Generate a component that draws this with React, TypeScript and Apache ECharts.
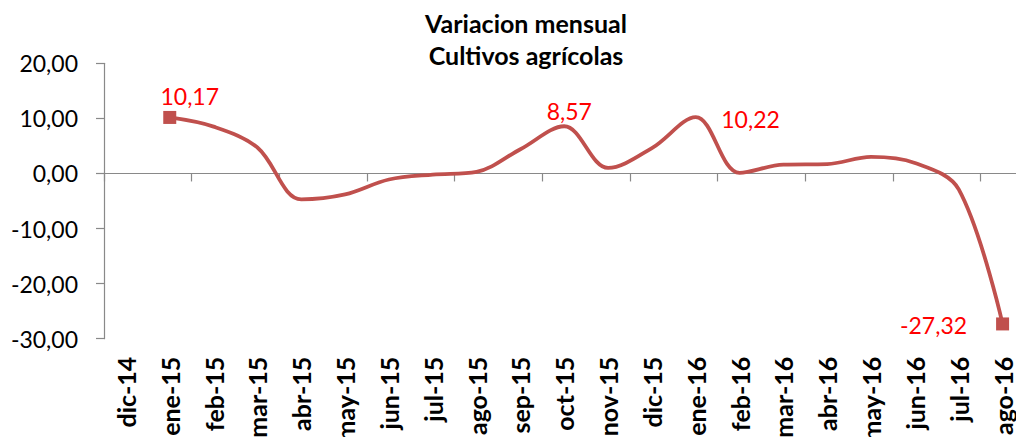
import React, { useEffect, useRef } from "react";
import * as echarts from "echarts";

const titleLines = ["Variacion mensual", "Cultivos agrícolas"];
const categories = [
  "dic-14", "ene-15", "feb-15", "mar-15", "abr-15", "may-15", "jun-15", "jul-15",
  "ago-15", "sep-15", "oct-15", "nov-15", "dic-15", "ene-16", "feb-16", "mar-16",
  "abr-16", "may-16", "jun-16", "jul-16", "ago-16",
];
const values: (number | null)[] = [
  null, 10.17, 8.5, 4.7, -4.7, -3.8, -1.1, -0.2, 0.3, 4.4, 8.57, 1.0, 4.6,
  10.22, 0.1, 1.6, 1.7, 3.0, 1.9, -2.9, -27.32,
];
// indices of points that carry a square marker / a data label
const markerIdx = [1, 20];
const labelIdx = [1, 10, 13, 20];
const yMin = -30;
const yMax = 20;
const yStep = 10;

const FONT = "Lato, 'Open Sans', sans-serif";
const LINE = "#C0504D";
const AXIS = "#898989";

const fmt = (v: number) => v.toFixed(2).replace(".", ",");

export default function App() {
  const ref = useRef<HTMLDivElement>(null);
  useEffect(() => {
    if (!ref.current) return;
    const chart = echarts.init(ref.current, undefined, { renderer: "svg" });
    const labelCfg: Record<number, any> = {
      1: { position: "top", distance: 3, offset: [20, 0] },
      10: { position: "top", distance: 3, offset: [5, 0] },
      13: { position: "right", distance: 25, offset: [0, 2] },
      20: { position: "left", distance: 29, offset: [0, 1] },
    };
    const data = values.map((v, i) => {
      const item: any = { value: v };
      const hasMarker = markerIdx.includes(i);
      const hasLabel = labelIdx.includes(i);
      if (!hasMarker && !hasLabel) item.symbol = "none";
      if (!hasMarker && hasLabel) item.symbolSize = 1;
      if (hasLabel) {
        item.label = {
          show: true,
          color: "#FF0000",
          fontFamily: FONT,
          fontSize: 23,
          formatter: (p: any) => fmt(p.value),
          ...labelCfg[i],
        };
      }
      return item;
    });
    chart.setOption({
      animation: false,
      backgroundColor: "#ffffff",
      grid: {
        left: 104,
        width: 920.5,
        top: 63.3,
        bottom: 98.3,
        containLabel: false,
        outerBoundsMode: "none",
      },
      graphic: titleLines.map((t, i) => ({
        type: "text",
        x: 526,
        y: 23 + i * 32,
        style: {
          text: t,
          fill: "#000",
          font: `bold 25px ${FONT}`,
          textAlign: "center",
          textVerticalAlign: "middle",
        },
      })),
      xAxis: [
        {
          type: "category",
          data: categories,
          position: "top",
          boundaryGap: true,
          axisLine: { show: true, onZero: true, lineStyle: { color: AXIS, width: 1.2 } },
          axisTick: { show: true, inside: true, length: 8, lineStyle: { color: AXIS, width: 1.2 } },
          axisLabel: { show: false },
          splitLine: { show: false },
        },
        {
          type: "category",
          data: categories,
          position: "bottom",
          boundaryGap: true,
          axisLine: { show: false, onZero: false },
          axisTick: { show: false },
          axisLabel: {
            show: true,
            rotate: 90,
            interval: 0,
            margin: 18,
            color: "#000",
            fontFamily: FONT,
            fontWeight: "bold",
            fontSize: 25,
          },
          splitLine: { show: false },
        },
      ],
      yAxis: {
        type: "value",
        min: yMin,
        max: yMax,
        interval: yStep,
        axisLine: { show: true, lineStyle: { color: AXIS, width: 1.2 } },
        axisTick: { show: true, length: 8, lineStyle: { color: AXIS, width: 1.2 } },
        axisLabel: {
          margin: 26,
          color: "#000",
          fontFamily: FONT,
          fontSize: 23,
          formatter: (v: number) => fmt(v),
        },
        splitLine: { show: false },
      },
      series: [
        {
          type: "line",
          xAxisIndex: 0,
          yAxisIndex: 0,
          data,
          smooth: 0.35,
          symbol: "rect",
          symbolSize: 13,
          showSymbol: true,
          lineStyle: { color: LINE, width: 3.8 },
          itemStyle: { color: LINE },
          emphasis: { disabled: true },
        },
      ],
    });
    return () => chart.dispose();
  }, []);
  return (
    <div
      ref={ref}
      style={{ position: "absolute", left: 0, top: 0, width: 1016, height: 437 }}
    />
  );
}
